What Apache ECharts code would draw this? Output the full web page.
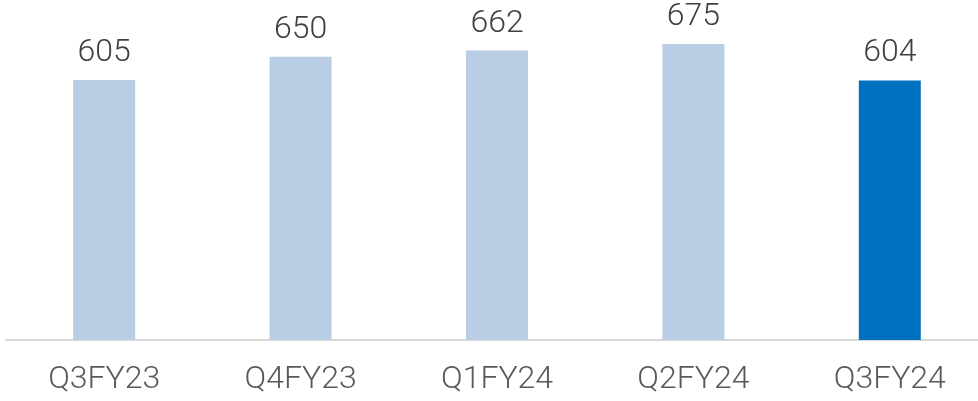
<!DOCTYPE html>
<html>
<head>
<meta charset="utf-8">
<script src="https://cdn.jsdelivr.net/npm/echarts@6/dist/echarts.min.js"></script>
<style>
  html, body { margin: 0; padding: 0; background: #fff; }
  #chart { width: 978px; height: 401px; }
</style>
</head>
<body>
<div id="chart"></div>
<script>
const categories = ['Q3FY23', 'Q4FY23', 'Q1FY24', 'Q2FY24', 'Q3FY24']
const values = [605, 650, 662, 675, 604]
const highlightIndex = 4

const lightBlue = '#B9CDE5'
const darkBlue = '#0070C0'

const myChart = echarts.init(document.getElementById('chart'))

const option = {
    animation: false,
    grid: {
        left: 6,
        right: -10,
        top: 31,
        bottom: 61,
        containLabel: false,
        outerBoundsMode: 'none'
    },
    xAxis: {
        type: 'category',
        data: categories,
        axisLine: { lineStyle: { color: '#D9D9D9', width: 2 } },
        axisTick: { show: false },
        axisLabel: {
            color: '#595959',
            fontFamily: 'Roboto',
            fontWeight: 300,
            fontSize: 32,
            margin: 24
        }
    },
    yAxis: {
        type: 'value',
        min: 100,
        max: 700,
        show: false,
        splitLine: { show: false }
    },
    series: [
        {
            type: 'bar',
            barWidth: 62,
            data: values.map((v, i) => ({
                value: v,
                itemStyle: { color: i === highlightIndex ? darkBlue : lightBlue }
            })),
            label: {
                show: true,
                position: 'top',
                distance: 11,
                color: '#404040',
                fontFamily: 'Roboto',
                fontWeight: 300,
                fontSize: 32
            }
        }
    ]
}

myChart.setOption(option)
</script>
</body>
</html>
